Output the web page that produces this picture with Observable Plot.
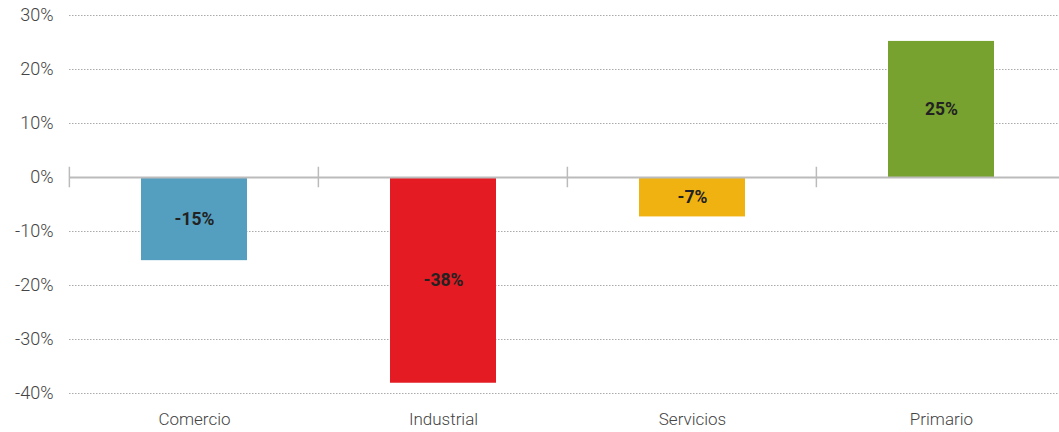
<!DOCTYPE html>
<html>
<head>
<meta charset="utf-8">
<script src="https://cdn.jsdelivr.net/npm/d3@7"></script>
<script src="https://cdn.jsdelivr.net/npm/@observablehq/plot@0.6"></script>
<style>
  html, body { margin: 0; padding: 0; background: #fff; overflow: hidden; }
</style>
</head>
<body>
<div id="chart"></div>
<script>
const categories = ["Comercio", "Industrial", "Servicios", "Primario"];
const values = [-15.4, -38.1, -7.3, 25.2];
const labels = ["-15%", "-38%", "-7%", "25%"];
const colors = ["#549fc0", "#e41b23", "#efb211", "#78a22f"];
const yTicks = [-40, -30, -20, -10, 0, 10, 20, 30];

const data = categories.map((c, i) => ({cat: c, value: values[i], label: labels[i]}));

const W = 1059, ML = 69, XR = 1066;
const step = (XR - ML) / categories.length;

const chart = Plot.plot({
  width: W,
  height: 432,
  marginLeft: ML,
  marginRight: 0,
  marginTop: 15,
  marginBottom: 39,
  style: {fontFamily: "Roboto, 'Liberation Sans', sans-serif", background: "#fff"},
  x: {domain: categories, range: [ML, XR], paddingInner: 0.575, paddingOuter: 0.2875, axis: null, label: null},
  y: {domain: [-40, 30], axis: null, label: null},
  color: {domain: categories, range: colors},
  marks: [
    Plot.ruleY(yTicks.filter(d => d !== 0), {stroke: "#aaa", strokeWidth: 1, strokeDasharray: "1.5,1.5"}),
    Plot.barY(data, {x: "cat", y: "value", fill: "cat"}),
    Plot.ruleY([0], {stroke: "#bbb", strokeWidth: 2}),
    Plot.ruleX(categories, {x: d => d, y1: -1.9, y2: 1.9, dx: -step / 2 - 0.5, stroke: "#bbb", strokeWidth: 1.5}),
    Plot.text(data, {x: "cat", y: d => d.value / 2, text: "label", fontWeight: "bold", fontSize: 17.5, fill: "#222"}),
    Plot.axisY(yTicks, {tickSize: 0, tickPadding: 16, tickFormat: d => `${d}%`, fontSize: 18, fontWeight: 300, fill: "#444", label: null}),
    Plot.axisX(categories, {tickSize: 0, tickPadding: 19, fontSize: 17, fontWeight: 300, fill: "#444", label: null})
  ]
});
document.getElementById("chart").appendChild(chart);
</script>
</body>
</html>
